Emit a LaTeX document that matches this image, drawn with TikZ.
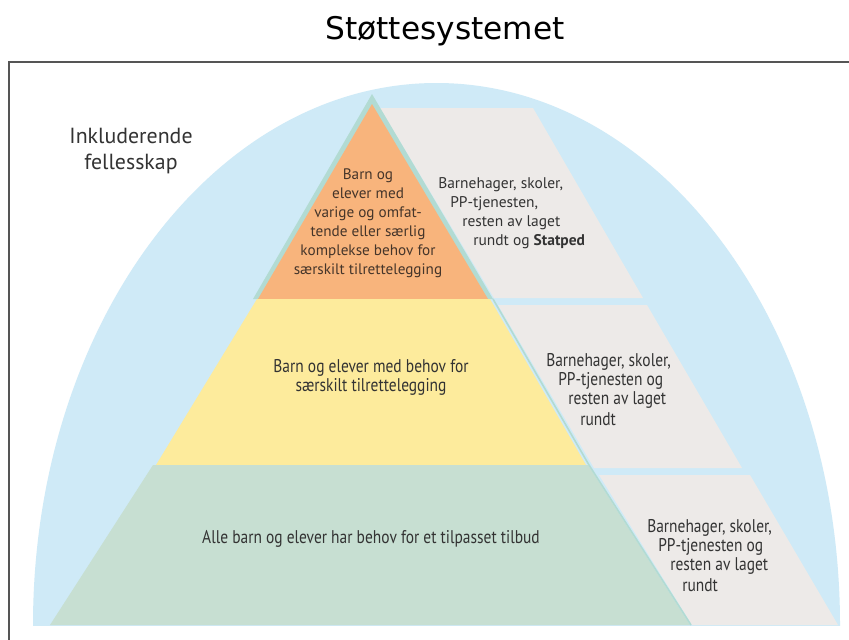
\documentclass[tikz,border=0pt]{standalone}
\usepackage{fontspec}
\setmainfont{PT Sans}
\newfontfamily\condfont[FakeStretch=0.84]{PT Sans}
\newfontfamily\titlefont{DejaVu Sans}
\definecolor{domeblue}{HTML}{CFEAF7}
\definecolor{orangel}{HTML}{F8B47C}
\definecolor{yellowl}{HTML}{FDEB9C}
\definecolor{greenl}{HTML}{C7DFD2}
\definecolor{greyp}{HTML}{EDEAE8}
\definecolor{tealedge}{HTML}{B2DBD3}
\definecolor{framegray}{HTML}{555555}
\definecolor{txtgray}{HTML}{333333}
\definecolor{txtbrown}{HTML}{45352A}
\tikzset{
  lbl/.style={inner sep=0pt, text=txtgray, font=\fontsize{11.6}{14.25}\selectfont},
  orangelbl/.style={inner sep=0pt, text=txtbrown, align=center, font=\fontsize{11.4}{14.25}\selectfont},
  condlbl/.style={inner sep=0pt, text=txtgray, font=\condfont\fontsize{13.8}{14.25}\selectfont},
  panellbl/.style={condlbl, anchor=west},
  toplbl/.style={lbl, anchor=west},
}
\begin{document}
\begin{tikzpicture}[x=0.75pt,y=-0.75pt]
\useasboundingbox (0,0) rectangle (849,639);
\fill[white] (0,0) rectangle (849,639);
% frame
\draw[framegray, line width=1.5pt] (9,640) -- (9,62) -- (850,62);
% dome
\begin{scope}
  \clip (0,0) rectangle (849,625);
  \fill[domeblue] (436.5,625) ellipse [x radius=403.5, y radius=542];
\end{scope}
% grey panels
\fill[greyp] (380,108) -- (533,108) -- (643,298) -- (494,298) -- cycle;
\fill[greyp] (498,305) -- (647,305) -- (742,468) -- (594,468) -- cycle;
\fill[greyp] (599,475) -- (750,475) -- (838,625) -- (692,625) -- cycle;
% pyramid
\fill[tealedge] (372,94) -- (493,299) -- (253,299) -- cycle;
\fill[orangel] (372,104) -- (488,299) -- (258,299) -- cycle;
\fill[yellowl] (257,299) -- (490,299) -- (586,465) -- (156,465) -- cycle;
\fill[greenl] (153,465) -- (588,465) -- (690,625) -- (50,625) -- cycle;
\draw[tealedge, line width=1.2pt] (493,299) -- (589,465) -- (691,625);
% texts
\node[font=\titlefont\fontsize{23.4}{28}\selectfont] (title) at (445,31) {Støttesystemet};
\node[lbl, font=\fontsize{16.4}{19.5}\selectfont, align=center] (incl) at (131,151) {Inkluderende\\fellesskap};
\node[orangelbl] (top) at (368,223.5) {Barn og\\elever med\\varige og omfat-\\tende eller særlig\\komplekse behov for\\særskilt tilrettelegging};
\node[toplbl] (p1a) at (438,185) {Barnehager, skoler,};
\node[toplbl] (p1b) at (450,204) {PP-tjenesten,};
\node[toplbl] (p1c) at (462,223) {resten av laget};
\node[toplbl] (p1d) at (473,242) {rundt og \textbf{Statped}};
\node[condlbl, align=center] (mid) at (371,377) {Barn og elever med behov for\\særskilt tilrettelegging};
\node[panellbl] (p2a) at (546,362) {Barnehager, skoler,};
\node[panellbl] (p2b) at (558,381) {PP-tjenesten og};
\node[panellbl] (p2c) at (568,400) {resten av laget};
\node[panellbl] (p2d) at (580,419) {rundt};
\node[condlbl] (base) at (371,539) {Alle barn og elever har behov for et tilpasset tilbud};
\node[panellbl] (p3a) at (647,528) {Barnehager, skoler,};
\node[panellbl] (p3b) at (658,547) {PP-tjenesten og};
\node[panellbl] (p3c) at (670,566) {resten av laget};
\node[panellbl] (p3d) at (682,585) {rundt};
\end{tikzpicture}
\end{document}
